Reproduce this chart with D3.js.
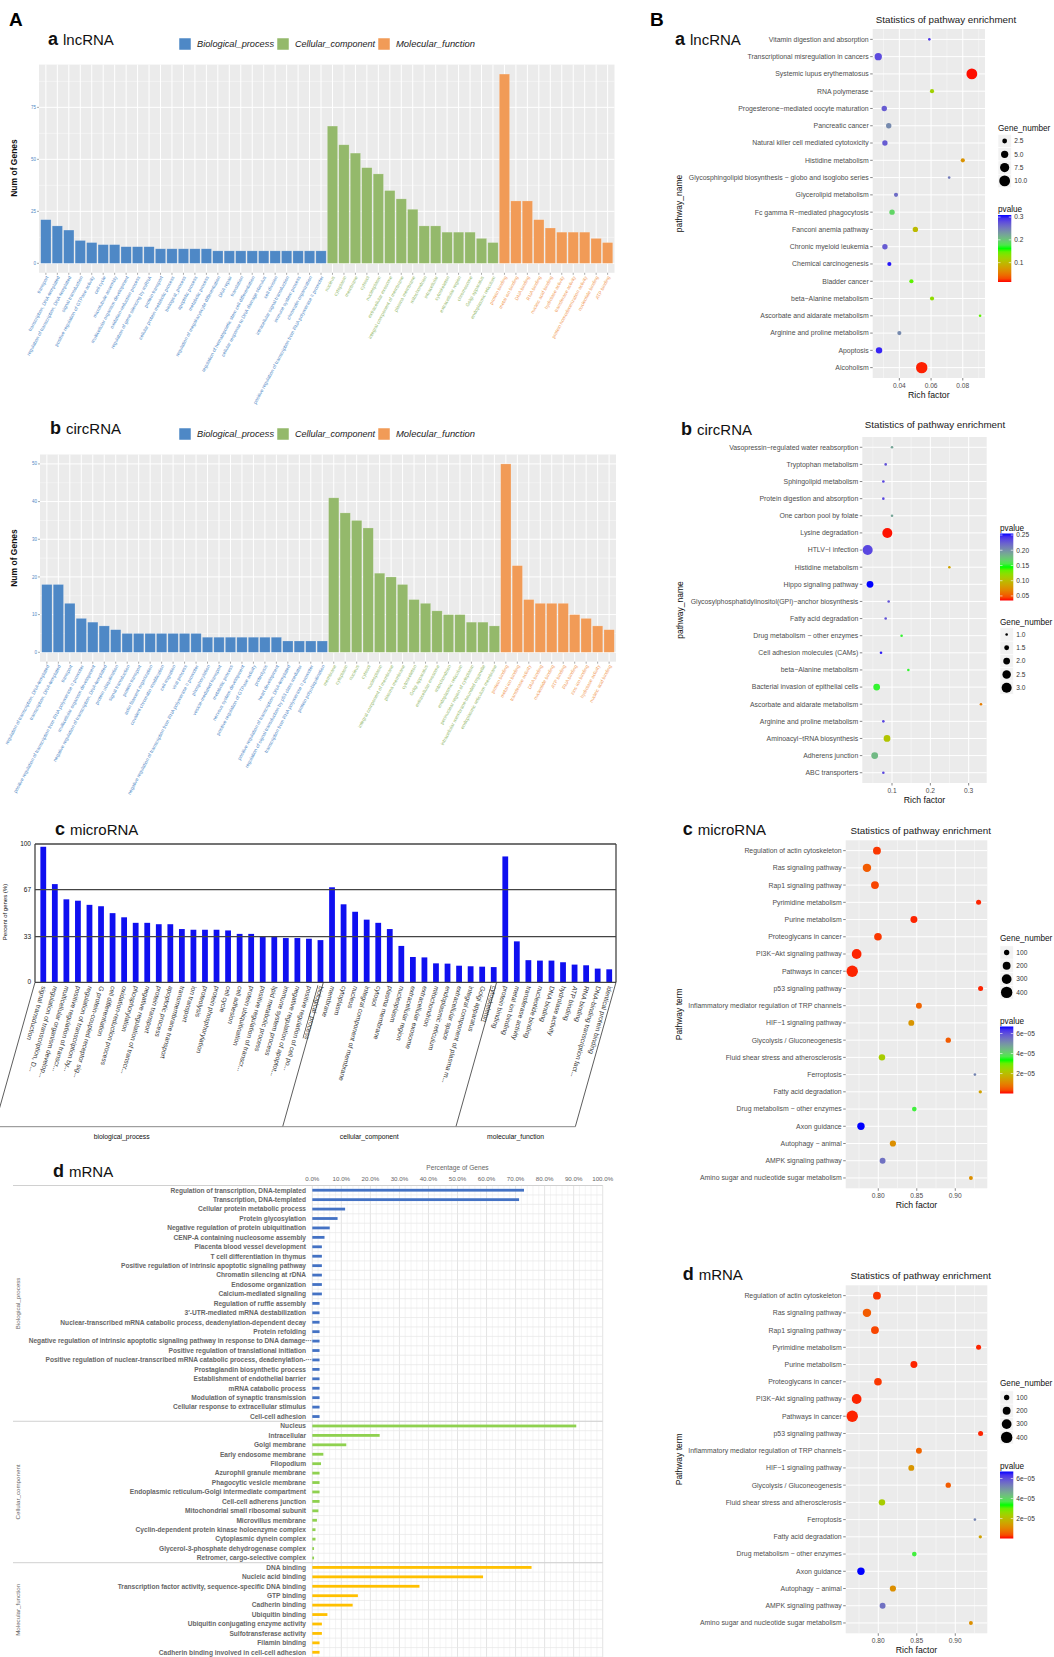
<!DOCTYPE html>
<html>
<head>
<meta charset="utf-8">
<script src="https://cdn.jsdelivr.net/npm/d3@7/dist/d3.min.js"></script>
<style>
  body { margin: 0; background: #fff; }
  svg { display: block; }
  text { font-family: "Liberation Sans", Arial, sans-serif; }
</style>
</head>
<body>
<svg id="fig" width="1054" height="1657"></svg>
<script>
// ---------- A-a lncRNA GO counts ----------
const lncBPTerms = ['transport', 'transcription, DNA-templated', 'regulation of transcription, DNA-templated',
  'signal transduction', 'positive regulation of GTPase activity', 'cell cycle', 'microtubule assembly',
  'multicellular organism development', 'oxidation-reduction process', 'regulation of gene silencing by miRNA',
  'protein transport', 'cellular protein metabolic process', 'biological_process', 'apoptotic process',
  'metabolic process', 'regulation of megakaryocyte differentiation', 'DNA repair', 'translation',
  'regulation of hematopoietic stem cell differentiation', 'cellular response to DNA damage stimulus',
  'cell division', 'intracellular signal transduction', 'immune system process', 'chromatin organization',
  'positive regulation of transcription from RNA polymerase II promoter'];
const lncBPCounts = [21, 18, 16, 11, 10, 9, 9, 8, 8, 8, 7, 7, 7, 7, 7, 6, 6, 6, 6, 6, 6, 6, 6, 6, 6];
const lncCCTerms = ['nucleus', 'cytoplasm', 'membrane', 'cytosol', 'nucleoplasm', 'extracellular exosome',
  'integral component of membrane', 'plasma membrane', 'mitochondrion', 'intracellular', 'cytoskeleton',
  'extracellular region', 'chromosome', 'Golgi apparatus', 'endoplasmic reticulum'];
const lncCCCounts = [66, 57, 53, 46, 43, 35, 31, 26, 18, 18, 15, 15, 15, 12, 10];
const lncMFTerms = ['protein binding', 'metal ion binding', 'DNA binding', 'RNA binding', 'nucleic acid binding',
  'hydrolase activity', 'transferase activity', 'protein homodimerization activity', 'nucleotide binding', 'ATP binding'];
const lncMFCounts = [91, 30, 30, 21, 17, 15, 15, 15, 12, 10];

// ---------- A-b circRNA GO counts ----------
const circBPTerms = ['regulation of transcription, DNA-templated', 'transcription, DNA-templated', 'transport',
  'positive regulation of transcription from RNA polymerase II promoter', 'multicellular organism development',
  'negative regulation of transcription, DNA-templated', 'protein ubiquitination', 'signal transduction',
  'protein transport', 'actin filament organization', 'covalent chromatin modification', 'cell migration',
  'viral process', 'negative regulation of transcription from RNA polymerase II promoter', 'phosphorylation',
  'vesicle-mediated transport', 'metabolic process', 'nervous system development',
  'positive regulation of GTPase activity', 'proteolysis', 'heart development',
  'positive regulation of transcription, DNA-templated', 'regulation of signal transduction by p53 class mediator',
  'transcription from RNA polymerase II promoter', 'protein polyubiquitination'];
const circBPCounts = [18, 18, 13, 9, 8, 7, 6, 5, 5, 5, 5, 5, 5, 5, 4, 4, 4, 4, 4, 4, 4, 3, 3, 3, 3];
const circCCTerms = ['membrane', 'cytoplasm', 'nucleus', 'cytosol', 'nucleoplasm', 'integral component of membrane',
  'plasma membrane', 'cytoskeleton', 'Golgi apparatus', 'extracellular exosome', 'mitochondrion',
  'endoplasmic reticulum', 'perinuclear region of cytoplasm', 'intracellular membrane-bounded organelle',
  'endoplasmic reticulum membrane'];
const circCCCounts = [41, 37, 35, 33, 21, 20, 18, 14, 13, 11, 10, 10, 8, 8, 7];
const circMFTerms = ['protein binding', 'metal ion binding', 'transferase activity', 'DNA binding', 'nucleotide binding',
  'ATP binding', 'RNA binding', 'zinc ion binding', 'hydrolase activity', 'nucleic acid binding'];
const circMFCounts = [50, 23, 14, 13, 13, 13, 10, 9, 7, 6];

// ---------- A-c microRNA GO percent ----------
const miBPTerms = ['signal transduction', 'regulation of transcription, D...', 'multicellular organism develop...',
  'positive regulation of transcr...', 'regulation of transcription by...', 'G protein-coupled receptor sig...',
  'cell differentiation', 'oxidation-reduction process', 'phosphorylation', 'negative regulation of transcr...',
  'protein transport', 'apoptotic process', 'transmembrane transport', 'ion transport', 'proteolysis',
  'protein phosphorylation', 'cell cycle', 'cell adhesion', 'protein ubiquitination',
  'positive regulation of transcr...', 'lipid metabolic process', 'immune system process',
  'negative regulation of apoptot...', 'positive regulation of cell po...', 'biological_process'];
const miBPPct = [98, 71, 60, 59, 56, 55, 50, 47, 43, 43, 42, 42, 38.5, 38, 38, 38, 37.5, 35, 35, 33, 33, 32, 32, 31.5, 30.5];
const miCCTerms = ['membrane', 'cytoplasm', 'nucleus', 'integral component of membrane', 'cytosol', 'plasma membrane',
  'nucleoplasm', 'extracellular region', 'extracellular exosome', 'mitochondrion', 'endoplasmic reticulum',
  'extracellular space', 'integral component of plasma m...', 'Golgi apparatus', 'cytoskeleton'];
const miCCPct = [68.7, 56.4, 51, 45.3, 43, 38.5, 26.3, 18.3, 18, 13.7, 13.5, 12, 11.6, 11.3, 11];
const miMFTerms = ['protein binding', 'metal ion binding', 'transferase activity', 'nucleotide binding', 'DNA binding',
  'hydrolase activity', 'ATP binding', 'RNA binding', 'DNA-binding transcription fact...', 'identical protein binding'];
const miMFPct = [91, 29.6, 16, 15.7, 15.7, 14.5, 12.8, 12.3, 9.9, 9.4];
const miGroupNames = ['biological_process', 'cellular_component', 'molecular_function'];
const miUnderlined = ['biological_process', 'cytoskeleton'];

// ---------- A-d mRNA GO percent ----------
const mBPTerms = ['Regulation of transcription, DNA-templated', 'Transcription, DNA-templated',
  'Cellular protein metabolic process', 'Protein glycosylation', 'Negative regulation of protein ubiquitination',
  'CENP-A containing nucleosome assembly', 'Placenta blood vessel development', 'T cell differentiation in thymus',
  'Positive regulation of intrinsic apoptotic signaling pathway', 'Chromatin silencing at rDNA',
  'Endosome organization', 'Calcium-mediated signaling', 'Regulation of ruffle assembly',
  '3\u2032-UTR-mediated mRNA destabilization',
  'Nuclear-transcribed mRNA catabolic process, deadenylation-dependent decay', 'Protein refolding',
  'Negative regulation of intrinsic apoptotic signaling pathway in response to DNA damage\u00b7\u00b7\u00b7',
  'Positive regulation of translational initiation',
  'Positive regulation of nuclear-transcribed mRNA catabolic process, deadenylation-\u00b7\u00b7\u00b7',
  'Prostaglandin biosynthetic process', 'Establishment of endothelial barrier', 'mRNA catabolic process',
  'Modulation of synaptic transmission', 'Cellular response to extracellular stimulus', 'Cell-cell adhesion'];
const mBPPct = [72.9, 71.2, 11.3, 8.7, 6.0, 4.2, 3.3, 3.3, 3.3, 3.3, 3.3, 3.3, 2.5, 2.5, 2.5, 2.5, 2.5, 2.5, 2.5, 2.5, 2.5, 2.5, 2.5, 2.5, 2.5];
const mCCTerms = ['Nucleus', 'Intracellular', 'Golgi membrane', 'Early endosome membrane', 'Filopodium',
  'Azurophil granule membrane', 'Phagocytic vesicle membrane', 'Endoplasmic reticulum-Golgi intermediate compartment',
  'Cell-cell adherens junction', 'Mitochondrial small ribosomal subunit', 'Microvillus membrane',
  'Cyclin-dependent protein kinase holoenzyme complex', 'Cytoplasmic dynein complex',
  'Glycerol-3-phosphate dehydrogenase complex', 'Retromer, cargo-selective complex'];
const mCCPct = [90.9, 23.2, 11.7, 3.8, 3.0, 2.5, 2.5, 2.5, 2.5, 2.1, 1.6, 1.1, 1.1, 0.6, 0.6];
const mMFTerms = ['DNA binding', 'Nucleic acid binding', 'Transcription factor activity, sequence-specific DNA binding',
  'GTP binding', 'Cadherin binding', 'Ubiquitin binding', 'Ubiquitin conjugating enzyme activity',
  'Sulfotransferase activity', 'Filamin binding', 'Cadherin binding involved in cell-cell adhesion'];
const mMFPct = [75.5, 58.8, 36.9, 15.7, 13.9, 5.2, 3.3, 3.3, 2.5, 2.5];
const mGroupNames = ['Biological_process', 'Cellular_component', 'Molecular_function'];
const mTicks = [0, 10, 20, 30, 40, 50, 60, 70, 80, 90, 100];

// ---------- B-a lncRNA KEGG ----------
const lncPath = ['Vitamin digestion and absorption', 'Transcriptional misregulation in cancers',
  'Systemic lupus erythematosus', 'RNA polymerase', 'Progesterone\u2212mediated oocyte maturation', 'Pancreatic cancer',
  'Natural killer cell mediated cytotoxicity', 'Histidine metabolism',
  'Glycosphingolipid biosynthesis \u2212 globo and isoglobo series', 'Glycerolipid metabolism',
  'Fc gamma R\u2212mediated phagocytosis', 'Fanconi anemia pathway', 'Chronic myeloid leukemia',
  'Chemical carcinogenesis', 'Bladder cancer', 'beta\u2212Alanine metabolism', 'Ascorbate and aldarate metabolism',
  'Arginine and proline metabolism', 'Apoptosis', 'Alcoholism'];
const lncRich = [0.0589, 0.0267, 0.0857, 0.0606, 0.0305, 0.0333, 0.0309, 0.080, 0.0714, 0.0379,
  0.0354, 0.0501, 0.0309, 0.0337, 0.0476, 0.0606, 0.0909, 0.040, 0.0272, 0.0541];
const lncGenes = [1, 5, 10, 2, 3, 3, 3, 2, 1, 2, 3, 3, 3, 2, 2, 2, 1, 2, 4, 11];
const lncPval = [0.29, 0.28, 0.016, 0.12, 0.27, 0.24, 0.27, 0.07, 0.25, 0.26,
  0.19, 0.10, 0.27, 0.305, 0.15, 0.13, 0.15, 0.24, 0.30, 0.018];

// ---------- B-b circRNA KEGG ----------
const circPath = ['Vasopressin\u2212regulated water reabsorption', 'Tryptophan metabolism', 'Sphingolipid metabolism',
  'Protein digestion and absorption', 'One carbon pool by folate', 'Lysine degradation', 'HTLV\u2212I infection',
  'Histidine metabolism', 'Hippo signaling pathway', 'Glycosylphosphatidylinositol(GPI)\u2212anchor biosynthesis',
  'Fatty acid degradation', 'Drug metabolism \u2212 other enzymes', 'Cell adhesion molecules (CAMs)',
  'beta\u2212Alanine metabolism', 'Bacterial invasion of epithelial cells', 'Ascorbate and aldarate metabolism',
  'Arginine and proline metabolism', 'Aminoacyl\u2212tRNA biosynthesis', 'Adherens junction', 'ABC transporters'];
const circRich = [0.100, 0.0835, 0.0774, 0.0774, 0.100, 0.0878, 0.0365, 0.2496, 0.0426, 0.0913,
  0.0835, 0.125, 0.0713, 0.1426, 0.060, 0.332, 0.0774, 0.087, 0.0548, 0.0774];
const circGenes = [1, 1, 1, 1, 1, 3, 3, 1, 2, 1, 1, 1, 1, 1, 2, 1, 1, 2, 2, 1];
const circPval = [0.19, 0.23, 0.235, 0.235, 0.19, 0.036, 0.235, 0.085, 0.255, 0.23,
  0.23, 0.15, 0.25, 0.15, 0.15, 0.065, 0.235, 0.105, 0.18, 0.235];

// ---------- B-c microRNA KEGG (B-d mRNA shows the same table) ----------
const miPath = ['Regulation of actin cytoskeleton', 'Ras signaling pathway', 'Rap1 signaling pathway',
  'Pyrimidine metabolism', 'Purine metabolism', 'Proteoglycans in cancer', 'PI3K\u2212Akt signaling pathway',
  'Pathways in cancer', 'p53 signaling pathway', 'Inflammatory mediator regulation of TRP channels',
  'HIF\u22121 signaling pathway', 'Glycolysis / Gluconeogenesis', 'Fluid shear stress and atherosclerosis',
  'Ferroptosis', 'Fatty acid degradation', 'Drug metabolism \u2212 other enzymes', 'Axon guidance',
  'Autophagy \u2212 animal', 'AMPK signaling pathway', 'Amino sugar and nucleotide sugar metabolism'];
const miRich = [0.7983, 0.7853, 0.7957, 0.9303, 0.8463, 0.7996, 0.7719, 0.7662, 0.9329, 0.8528,
  0.8429, 0.8909, 0.8048, 0.9255, 0.9325, 0.8468, 0.7775, 0.819, 0.8056, 0.9203];
const miGenes = [200, 230, 200, 90, 160, 190, 300, 400, 90, 120, 120, 100, 140, 30, 45, 80, 180, 130, 120, 60];
const miPval = [2e-6, 5e-6, 3e-6, 1e-6, 1e-6, 2e-6, 1e-6, 1e-6, 1e-6, 6e-6,
  1.3e-5, 5e-6, 2.3e-5, 5.2e-5, 1.5e-5, 3.6e-5, 6.7e-5, 1.2e-5, 5.5e-5, 1.2e-5];
const mrnaPath = miPath, mrnaRich = miRich, mrnaGenes = miGenes, mrnaPval = miPval;

const svg = d3.select('#fig');
const GG_COLORS = ['#4e88c6', '#94b96b', '#f19b57'];
const GG_NAMES = ['Biological_process', 'Cellular_component', 'Molecular_function'];
const SERIF = '"Liberation Serif", "Times New Roman", serif';

function tag(g, letter, name, x, y) {
  const t = g.append('text').attr('x', x).attr('y', y).attr('fill', '#111');
  t.append('tspan').attr('font-size', 18).attr('font-weight', 'bold').text(letter);
  t.append('tspan').attr('dx', 5).attr('font-size', 15).text(name);
}

// ggplot style GO bar chart (lncRNA / circRNA)
function ggBars(o) {
  const g = svg.append('g');
  const items = [];
  o.groups.forEach((grp, gi) => grp.terms.forEach((t, i) => items.push({ term: t, n: grp.counts[i], gi })));
  const x = d3.scalePoint().domain(d3.range(items.length)).range([o.x0, o.x1]).padding(0.6);
  const top = d3.max(items, d => d.n);
  const y = d3.scaleLinear().domain([-top * 0.05, top * 1.05]).range([o.y1, o.y0]);
  const bw = x.step() * 0.9;
  const half = (o.yTicks[1] - o.yTicks[0]) / 2;
  const minor = o.yTicks.map(t => t + half).filter(v => v < y.domain()[1]);

  g.append('rect').attr('x', o.x0).attr('y', o.y0).attr('width', o.x1 - o.x0).attr('height', o.y1 - o.y0).attr('fill', '#ebebeb');
  g.selectAll('.mn').data(minor).join('line')
    .attr('x1', o.x0).attr('x2', o.x1).attr('y1', d => y(d)).attr('y2', d => y(d))
    .attr('stroke', '#fafafa').attr('stroke-width', 0.5);
  g.selectAll('.mj').data(o.yTicks).join('line')
    .attr('x1', o.x0).attr('x2', o.x1).attr('y1', d => y(d)).attr('y2', d => y(d))
    .attr('stroke', '#fff').attr('stroke-width', 1);
  g.selectAll('.vg').data(items).join('line')
    .attr('x1', (d, i) => x(i)).attr('x2', (d, i) => x(i)).attr('y1', o.y0).attr('y2', o.y1)
    .attr('stroke', '#fff').attr('stroke-width', 1);
  g.selectAll('.bar').data(items).join('rect')
    .attr('x', (d, i) => x(i) - bw / 2).attr('width', bw)
    .attr('y', d => y(d.n)).attr('height', d => y(0) - y(d.n))
    .attr('fill', d => GG_COLORS[d.gi]).attr('stroke', '#ffffff').attr('stroke-opacity', 0.35).attr('stroke-width', 0.6);

  // axes
  g.selectAll('.yt').data(o.yTicks).join('line')
    .attr('x1', o.x0 - 2).attr('x2', o.x0).attr('y1', d => y(d)).attr('y2', d => y(d)).attr('stroke', '#555').attr('stroke-width', 0.5);
  g.selectAll('.yl').data(o.yTicks).join('text')
    .attr('x', o.x0 - 3).attr('y', d => y(d)).attr('dy', '0.35em').attr('text-anchor', 'end')
    .attr('font-size', 4.5).attr('fill', GG_COLORS[0]).text(d => d);
  g.selectAll('.xt').data(items).join('line')
    .attr('x1', (d, i) => x(i)).attr('x2', (d, i) => x(i)).attr('y1', o.y1).attr('y2', o.y1 + 2).attr('stroke', '#555').attr('stroke-width', 0.5);
  g.selectAll('.xl').data(items).join('text')
    .attr('transform', (d, i) => `translate(${x(i) + 1.2},${o.y1 + 3.5}) rotate(-62)`)
    .attr('text-anchor', 'end').attr('dy', '0.35em').attr('font-size', 4.8)
    .attr('fill', d => GG_COLORS[d.gi]).text(d => d.term);
  g.append('text').attr('transform', `translate(17,${o.ylabY}) rotate(-90)`).attr('text-anchor', 'middle')
    .attr('font-size', 8.5).attr('font-weight', 'bold').attr('fill', '#111').text('Num of Genes');

  // legend
  const lg = g.append('g');
  GG_NAMES.forEach((nm, i) => {
    lg.append('rect').attr('x', o.legX[i]).attr('y', o.legendY - 6).attr('width', 12).attr('height', 12)
      .attr('fill', GG_COLORS[i]).attr('stroke', '#fff').attr('stroke-width', 0.5);
    lg.append('text').attr('x', o.legX[i] + 18).attr('y', o.legendY).attr('dy', '0.35em')
      .attr('font-size', 9.2).attr('font-style', 'italic').attr('fill', '#222')
      .attr('textLength', o.legW[i]).attr('lengthAdjust', 'spacingAndGlyphs').text(nm);
  });
  tag(g, o.tag[0], o.tag[1], o.tagX, o.tagY);
}

// ggplot style KEGG bubble chart
function dotPanel(o) {
  const g = svg.append('g').attr('transform', `translate(0,${o.shift || 0})`);
  const x = d3.scaleLinear().domain(o.xDomain).range([o.x0, o.x1]);
  const y = d3.scalePoint().domain(d3.range(o.names.length)).range([o.y0, o.y1]).padding(0.6);
  const r = d3.scaleSqrt().domain(o.sizeDomain).range(o.rRange);
  const pm = (o.pDomain[0] + o.pDomain[1]) / 2;
  const col = d3.scaleLinear().domain([o.pDomain[0], pm, o.pDomain[1]])
    .range(['#ff0000', '#00ff00', '#0000ff']).interpolate(d3.interpolateLab).clamp(true);
  const half = (o.xTicks[1] - o.xTicks[0]) / 2;
  const minor = [o.xTicks[0] - half].concat(o.xTicks.map(t => t + half))
    .filter(v => v > o.xDomain[0] && v < o.xDomain[1]);

  g.append('rect').attr('x', o.x0).attr('y', o.y0).attr('width', o.x1 - o.x0).attr('height', o.y1 - o.y0).attr('fill', '#ebebeb');
  g.selectAll('.mn').data(minor).join('line')
    .attr('x1', d => x(d)).attr('x2', d => x(d)).attr('y1', o.y0).attr('y2', o.y1)
    .attr('stroke', '#fafafa').attr('stroke-width', 0.5);
  g.selectAll('.mj').data(o.xTicks).join('line')
    .attr('x1', d => x(d)).attr('x2', d => x(d)).attr('y1', o.y0).attr('y2', o.y1)
    .attr('stroke', '#fff').attr('stroke-width', 1);
  g.selectAll('.hg').data(o.names).join('line')
    .attr('x1', o.x0).attr('x2', o.x1).attr('y1', (d, i) => y(i)).attr('y2', (d, i) => y(i))
    .attr('stroke', '#fff').attr('stroke-width', 1);

  g.selectAll('.pt').data(o.names).join('circle')
    .attr('cx', (d, i) => x(o.rich[i])).attr('cy', (d, i) => y(i))
    .attr('r', (d, i) => r(o.genes[i])).attr('fill', (d, i) => col(o.pval[i]));

  g.selectAll('.yt').data(o.names).join('line')
    .attr('x1', o.x0 - 2.5).attr('x2', o.x0).attr('y1', (d, i) => y(i)).attr('y2', (d, i) => y(i))
    .attr('stroke', '#333').attr('stroke-width', 0.6);
  g.selectAll('.yl').data(o.names).join('text')
    .attr('x', o.x0 - 4).attr('y', (d, i) => y(i)).attr('dy', '0.35em').attr('text-anchor', 'end')
    .attr('font-size', 6.9).attr('fill', '#4d4d4d').text(d => d);
  g.selectAll('.xt').data(o.xTicks).join('line')
    .attr('x1', d => x(d)).attr('x2', d => x(d)).attr('y1', o.y1).attr('y2', o.y1 + 2.5)
    .attr('stroke', '#333').attr('stroke-width', 0.6);
  g.selectAll('.xl').data(o.xTicks).join('text')
    .attr('x', d => x(d)).attr('y', o.y1 + 9.5).attr('text-anchor', 'middle')
    .attr('font-size', 6.6).attr('fill', '#4d4d4d').text(d3.format(o.xFmt));
  g.append('text').attr('x', (o.x0 + o.x1) / 2).attr('y', o.y1 + 20).attr('text-anchor', 'middle')
    .attr('font-size', 8.7).attr('fill', '#111').text('Rich factor');
  g.append('text').attr('transform', `translate(${o.ytitleX},${(o.y0 + o.y1) / 2}) rotate(-90)`)
    .attr('text-anchor', 'middle').attr('font-size', 8.5).attr('fill', '#111').text(o.ytitle);
  g.append('text').attr('x', o.titleX).attr('y', o.titleY).attr('text-anchor', 'middle')
    .attr('font-size', 9.8).attr('fill', '#1a1a1a').text('Statistics of pathway enrichment');

  // size legend
  const lx = o.lx, ks = 13.3;
  g.append('text').attr('x', lx).attr('y', o.sizeLegY).attr('font-size', 8.2).attr('fill', '#111').text('Gene_number');
  o.sizeTicks.forEach((v, i) => {
    const cy = o.sizeLegY + o.keyOff + i * ks;
    g.append('rect').attr('x', lx).attr('y', cy - ks / 2).attr('width', ks).attr('height', ks)
      .attr('fill', '#f2f2f2').attr('stroke', '#fff').attr('stroke-width', 0.6);
    g.append('circle').attr('cx', lx + ks / 2).attr('cy', cy).attr('r', r(v)).attr('fill', '#000');
    g.append('text').attr('x', lx + ks + 3).attr('y', cy).attr('dy', '0.35em').attr('font-size', 6.6)
      .attr('fill', '#333').text(d3.format(o.sizeFmt)(v));
  });

  // colour bar
  const gid = 'grad' + o.id;
  const grad = svg.append('defs').append('linearGradient').attr('id', gid)
    .attr('x1', 0).attr('y1', 1).attr('x2', 0).attr('y2', 0);
  d3.range(0, 1.0001, 0.05).forEach(t => {
    grad.append('stop').attr('offset', t).attr('stop-color', col(o.pDomain[0] + t * (o.pDomain[1] - o.pDomain[0])));
  });
  const by0 = o.colorLegY + 3, by1 = o.colorLegY + 70;
  const cb = d3.scaleLinear().domain(o.pDomain).range([by1, by0]);
  g.append('text').attr('x', lx).attr('y', o.colorLegY).attr('font-size', 8.2).attr('fill', '#111').text('pvalue');
  g.append('rect').attr('x', lx).attr('y', by0).attr('width', ks).attr('height', by1 - by0).attr('fill', `url(#${gid})`);
  o.pTicks.forEach(v => {
    g.append('line').attr('x1', lx).attr('x2', lx + 2.5).attr('y1', cb(v)).attr('y2', cb(v)).attr('stroke', '#fff').attr('stroke-width', 0.6);
    g.append('line').attr('x1', lx + ks - 2.5).attr('x2', lx + ks).attr('y1', cb(v)).attr('y2', cb(v)).attr('stroke', '#fff').attr('stroke-width', 0.6);
    g.append('text').attr('x', lx + ks + 3).attr('y', cb(v)).attr('dy', '0.35em').attr('font-size', 6.6)
      .attr('fill', '#333').text(o.pFmt(v));
  });
  tag(g, o.tag[0], o.tag[1], o.tagX, o.tagY);
}

// WEGO style percent chart (microRNA)
function wegoBars() {
  const g = svg.append('g');
  const groups = [[miBPTerms, miBPPct], [miCCTerms, miCCPct], [miMFTerms, miMFPct]];
  const items = [];
  groups.forEach(([terms, pct], gi) => terms.forEach((t, i) => items.push({ term: t, v: pct[i], gi })));
  const x = d3.scaleBand().domain(d3.range(items.length)).range([37.5, 615]).paddingInner(0.5).paddingOuter(0.25);
  const y = d3.scaleLinear().domain([0, 100]).range([982.3, 844]);
  const L = 35, R = 616, yTicks = [0, 33, 67, 100];

  g.selectAll('.bar').data(items).join('rect')
    .attr('x', (d, i) => x(i)).attr('width', x.bandwidth())
    .attr('y', d => y(d.v)).attr('height', d => y(0) - y(d.v)).attr('fill', '#0f0ff0');
  g.selectAll('.hl').data(yTicks).join('line')
    .attr('x1', L).attr('x2', R).attr('y1', d => y(d)).attr('y2', d => y(d))
    .attr('stroke', '#444').attr('stroke-width', 1.3);
  g.append('line').attr('x1', L).attr('x2', L).attr('y1', y(0)).attr('y2', y(100)).attr('stroke', '#444').attr('stroke-width', 1.3);
  g.append('line').attr('x1', R).attr('x2', R).attr('y1', y(0)).attr('y2', y(100)).attr('stroke', '#444').attr('stroke-width', 1.3);
  g.selectAll('.yl').data(yTicks).join('text')
    .attr('x', L - 4).attr('y', d => y(d)).attr('dy', '0.3em').attr('text-anchor', 'end')
    .attr('font-family', SERIF).attr('font-size', 6.5).attr('fill', '#111').text(d => d);
  g.append('text').attr('transform', `translate(7,912) rotate(-90)`).attr('text-anchor', 'middle')
    .attr('font-family', SERIF).attr('font-size', 6).attr('fill', '#111').text('Percent of genes (%)');

  g.selectAll('.xl').data(items).join('text')
    .attr('transform', (d, i) => `translate(${x(i) + x.bandwidth() / 2 + 1},${y(0) + 4}) rotate(105.8)`)
    .attr('dy', '0.35em').attr('font-family', SERIF).attr('font-size', 6.7).attr('fill', '#333')
    .attr('text-decoration', d => miUnderlined.includes(d.term) ? 'underline' : null)
    .text(d => d.term);

  // group brackets
  const yb = 1126.7, dx = -40.7;
  const bounds = [L];
  let k = 0;
  groups.forEach(([terms], gi) => {
    k += terms.length;
    bounds.push(gi === groups.length - 1 ? R : x(k - 1) + x.bandwidth());
  });
  g.selectAll('.br').data(bounds).join('line')
    .attr('x1', d => d).attr('y1', y(0)).attr('x2', d => d + dx).attr('y2', yb)
    .attr('stroke', '#333').attr('stroke-width', 0.8);
  g.append('line').attr('x1', 0).attr('x2', R + dx).attr('y1', yb).attr('y2', yb).attr('stroke', '#888').attr('stroke-width', 1);
  miGroupNames.forEach((nm, i) => {
    const cx = (bounds[i] + bounds[i + 1]) / 2 + dx;
    g.append('text').attr('x', i === 0 ? 121.7 : cx).attr('y', 1139).attr('text-anchor', 'middle')
      .attr('font-family', SERIF).attr('font-size', 6.8).attr('fill', '#111').text(nm);
  });
  tag(g, 'c', 'microRNA', 55, 835);
}

// Excel style horizontal percentage bars (mRNA)
function mrnaBars() {
  const g = svg.append('g');
  const groups = [[mBPTerms, mBPPct, '#4472c4'], [mCCTerms, mCCPct, '#8fd14f'], [mMFTerms, mMFPct, '#ffc000']];
  const items = [];
  groups.forEach(([terms, pct, c], gi) => terms.forEach((t, i) => items.push({ term: t, v: pct[i], c, gi })));
  const x = d3.scaleLinear().domain([0, 100]).range([312.3, 602.7]);
  const rowH = 9.43, top = 1185.5;
  const y = d3.scaleBand().domain(d3.range(items.length)).range([top, top + items.length * rowH]);
  const bottom = top + items.length * rowH;

  g.selectAll('.vm').data(d3.range(0, 101, 2)).join('line')
    .attr('x1', d => x(d)).attr('x2', d => x(d)).attr('y1', top).attr('y2', bottom)
    .attr('stroke', d => d % 10 === 0 ? '#d9d9d9' : '#efefef').attr('stroke-width', 0.7);
  g.selectAll('.hr').data(d3.range(items.length + 1)).join('line')
    .attr('x1', x(0)).attr('x2', x(100)).attr('y1', d => top + d * rowH).attr('y2', d => top + d * rowH)
    .attr('stroke', '#e6e6e6').attr('stroke-width', 0.7);
  const seps = [0];
  let k = 0;
  groups.forEach(([terms]) => { k += terms.length; seps.push(k); });
  g.selectAll('.sp').data(seps.slice(0, 3)).join('line')
    .attr('x1', 13).attr('x2', x(100)).attr('y1', d => top + d * rowH).attr('y2', d => top + d * rowH)
    .attr('stroke', '#d0d0d0').attr('stroke-width', 1);

  g.selectAll('.bar').data(items).join('rect')
    .attr('x', x(0)).attr('width', d => x(d.v) - x(0))
    .attr('y', (d, i) => y(i) + y.bandwidth() / 2 - 1.4).attr('height', 2.8).attr('fill', d => d.c);
  g.selectAll('.rl').data(items).join('text')
    .attr('x', d => d.term.endsWith('\u00b7') ? 312 : 306).attr('y', (d, i) => y(i) + y.bandwidth() / 2)
    .attr('dy', '0.35em').attr('text-anchor', 'end').attr('font-size', 6.6).attr('font-weight', 'bold')
    .attr('fill', '#666').text(d => d.term);
  g.selectAll('.xl').data(mTicks).join('text')
    .attr('x', d => x(d)).attr('y', 1181).attr('text-anchor', 'middle').attr('font-size', 6.2)
    .attr('fill', '#666').text(d => d.toFixed(1) + '%');
  g.append('text').attr('x', (x(0) + x(100)) / 2).attr('y', 1170).attr('text-anchor', 'middle')
    .attr('font-size', 6.6).attr('fill', '#666').text('Percentage of Genes');
  mGroupNames.forEach((nm, i) => {
    const cy = top + (seps[i] + seps[i + 1]) / 2 * rowH;
    g.append('text').attr('transform', `translate(20,${Math.min(cy, 1612)}) rotate(-90)`).attr('text-anchor', 'middle')
      .attr('font-size', 6.2).attr('fill', '#666').text(nm);
  });
  tag(g, 'd', 'mRNA', 53, 1177);
}

// panel letters
svg.append('text').attr('x', 9).attr('y', 26).attr('font-size', 19).attr('font-weight', 'bold').text('A');
svg.append('text').attr('x', 650).attr('y', 26).attr('font-size', 19).attr('font-weight', 'bold').text('B');

ggBars({
  groups: [{ terms: lncBPTerms, counts: lncBPCounts }, { terms: lncCCTerms, counts: lncCCCounts }, { terms: lncMFTerms, counts: lncMFCounts }],
  x0: 39, x1: 614.5, y0: 64.6, y1: 272.8, yTicks: [0, 25, 50, 75],
  legendY: 44, legX: [179, 277, 378], legW: [77, 80, 79], ylabY: 168, tag: ['a', 'lncRNA'], tagX: 48, tagY: 45
});
ggBars({
  groups: [{ terms: circBPTerms, counts: circBPCounts }, { terms: circCCTerms, counts: circCCCounts }, { terms: circMFTerms, counts: circMFCounts }],
  x0: 40, x1: 616, y0: 454.5, y1: 661.7, yTicks: [0, 10, 20, 30, 40, 50],
  legendY: 434, legX: [179, 277, 378], legW: [77, 80, 79], ylabY: 558, tag: ['b', 'circRNA'], tagX: 50, tagY: 434
});
wegoBars();
mrnaBars();

dotPanel({
  id: 'a', names: lncPath, rich: lncRich, genes: lncGenes, pval: lncPval,
  x0: 872.7, x1: 985, y0: 29, y1: 378, xDomain: [0.0232, 0.094], xTicks: [0.04, 0.06, 0.08], xFmt: '.2f',
  sizeDomain: [1, 11], rRange: [1.3, 5.7], sizeTicks: [2.5, 5, 7.5, 10], sizeFmt: '.1f',
  pDomain: [0.015, 0.309], pTicks: [0.1, 0.2, 0.3], pFmt: d3.format('.1f'),
  ytitle: 'pathway_name', ytitleX: 682, titleX: 946, titleY: 22.5,
  lx: 998, sizeLegY: 131, keyOff: 10, colorLegY: 212, tag: ['a', 'lncRNA'], tagX: 675, tagY: 45
});
dotPanel({
  id: 'b', names: circPath, rich: circRich, genes: circGenes, pval: circPval,
  x0: 862.3, x1: 986.7, y0: 437, y1: 783, xDomain: [0.0225, 0.347], xTicks: [0.1, 0.2, 0.3], xFmt: '.1f',
  sizeDomain: [1, 3], rRange: [1.3, 5.0], sizeTicks: [1, 1.5, 2, 2.5, 3], sizeFmt: '.1f',
  pDomain: [0.035, 0.255], pTicks: [0.05, 0.1, 0.15, 0.2, 0.25], pFmt: d3.format('.2f'),
  ytitle: 'pathway_name', ytitleX: 683, titleX: 935, titleY: 427.5,
  lx: 1000, sizeLegY: 624.5, keyOff: 10, colorLegY: 530.5, tag: ['b', 'circRNA'], tagX: 681, tagY: 435
});
const expFmt = v => Math.round(v * 1e5) + 'e\u221205';
dotPanel({
  id: 'c', names: miPath, rich: miRich, genes: miGenes, pval: miPval,
  x0: 845.7, x1: 987.3, y0: 840.3, y1: 1188.3, xDomain: [0.7577, 0.9416], xTicks: [0.80, 0.85, 0.90], xFmt: '.2f',
  sizeDomain: [30, 400], rRange: [1.3, 5.7], sizeTicks: [100, 200, 300, 400], sizeFmt: 'd',
  pDomain: [1e-7, 6.7e-5], pTicks: [2e-5, 4e-5, 6e-5], pFmt: expFmt,
  ytitle: 'Pathway term', ytitleX: 682, titleX: 920.7, titleY: 833.5,
  lx: 1000, sizeLegY: 940.5, keyOff: 12, colorLegY: 1023.5, tag: ['c', 'microRNA'], tagX: 682.7, tagY: 835
});
dotPanel({
  id: 'd', names: mrnaPath, rich: mrnaRich, genes: mrnaGenes, pval: mrnaPval, shift: 445,
  x0: 845.7, x1: 987.3, y0: 840.3, y1: 1188.3, xDomain: [0.7577, 0.9416], xTicks: [0.80, 0.85, 0.90], xFmt: '.2f',
  sizeDomain: [30, 400], rRange: [1.3, 5.7], sizeTicks: [100, 200, 300, 400], sizeFmt: 'd',
  pDomain: [1e-7, 6.7e-5], pTicks: [2e-5, 4e-5, 6e-5], pFmt: expFmt,
  ytitle: 'Pathway term', ytitleX: 682, titleX: 920.7, titleY: 833.5,
  lx: 1000, sizeLegY: 940.5, keyOff: 12, colorLegY: 1023.5, tag: ['d', 'mRNA'], tagX: 682.7, tagY: 835
});
</script>
</body>
</html>
